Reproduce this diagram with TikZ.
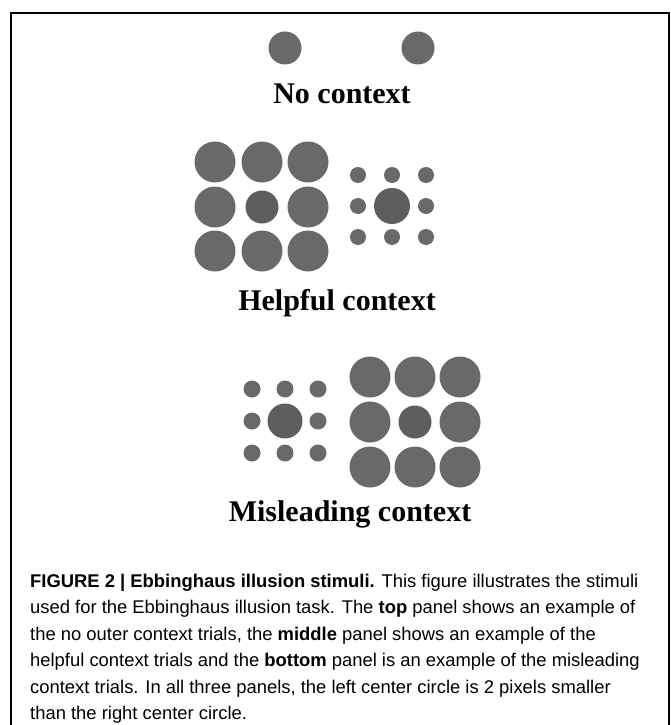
\documentclass[tikz,border=0pt]{standalone}
\usepackage{fontspec}
\setmainfont{Liberation Serif}
\setsansfont{Liberation Sans}
\definecolor{dotgray}{gray}{0.41}
\definecolor{midgray}{gray}{0.37}
\tikzset{
  panellabel/.style={font=\fontsize{30}{35}\selectfont\bfseries, anchor=base, inner sep=0pt},
  captionline/.style={font=\sffamily\fontsize{18.4}{22}\selectfont, anchor=base west, inner sep=0pt},
}
\begin{document}
\begin{tikzpicture}[x=1pt, y=-1pt]
  \useasboundingbox (0,0) rectangle (671,725);
  % Frame (open at the bottom)
  \draw[line width=2pt] (11,726) -- (11,13) -- (669,13) -- (669,726);
  % Top panel: no context
  \fill[dotgray] (285,48) circle (16.5) (418,48) circle (16.5);
  \node[panellabel] (nocontext) at (342,103) {No context};
  % Middle panel: big surround (left)
  \fill[dotgray] (215,162) circle (20.5) (262,162) circle (20.5) (308,162) circle (20.5);
  \fill[dotgray] (215,207) circle (20.5) (308,207) circle (20.5);
  \fill[dotgray] (215,251) circle (20.5) (262,251) circle (20.5) (308,251) circle (20.5);
  \fill[midgray] (262,207) circle (16.5);
  % Middle panel: small surround (right)
  \fill[dotgray] (358,175) circle (8) (392,175) circle (8) (426,175) circle (8);
  \fill[dotgray] (358,206) circle (8) (426,206) circle (8);
  \fill[dotgray] (358,237) circle (8) (392,237) circle (8) (426,237) circle (8);
  \fill[midgray] (392,206) circle (18);
  \node[panellabel] (helpful) at (337,310) {Helpful context};
  % Bottom panel: small surround (left)
  \fill[dotgray] (252,389) circle (8.5) (285,389) circle (8.5) (318,389) circle (8.5);
  \fill[dotgray] (252,421) circle (8.5) (318,421) circle (8.5);
  \fill[dotgray] (252,453) circle (8.5) (285,453) circle (8.5) (318,453) circle (8.5);
  \fill[midgray] (285,421) circle (17.5);
  % Bottom panel: big surround (right)
  \fill[dotgray] (370,377) circle (20.5) (415,377) circle (20.5) (460,377) circle (20.5);
  \fill[dotgray] (370,422) circle (20.5) (460,422) circle (20.5);
  \fill[dotgray] (370,467) circle (20.5) (415,467) circle (20.5) (460,467) circle (20.5);
  \fill[midgray] (415,422) circle (16.5);
  \node[panellabel] (misleading) at (350,521) {Misleading context};
  % Caption
  \node[captionline] (cap1) at (30,587) {\textbf{FIGURE 2 | Ebbinghaus illusion stimuli.} This figure illustrates the stimuli};
  \node[captionline] (cap2) at (30,613.5) {used for the Ebbinghaus illusion task. The \textbf{top} panel shows an example of};
  \node[captionline] (cap3) at (30,640) {the no outer context trials, the \textbf{middle} panel shows an example of the};
  \node[captionline] (cap4) at (30,666.5) {helpful context trials and the \textbf{bottom} panel is an example of the misleading};
  \node[captionline] (cap5) at (30,693) {context trials. In all three panels, the left center circle is 2 pixels smaller};
  \node[captionline] (cap6) at (30,719) {than the right center circle.};
\end{tikzpicture}
\end{document}
